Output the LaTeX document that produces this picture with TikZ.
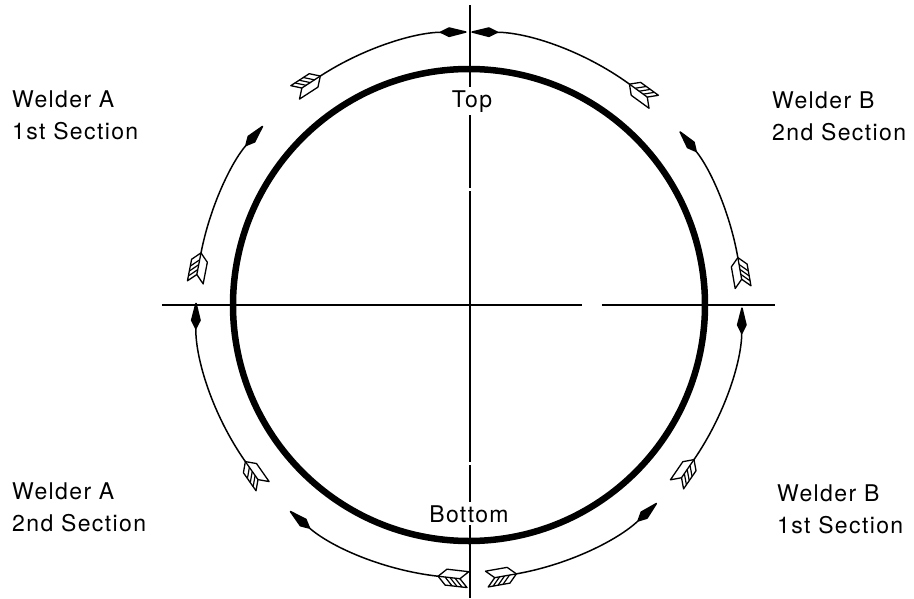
\documentclass[tikz,border=0pt]{standalone}
\usepackage{fontspec}
\setmainfont{TeX Gyre Heros}[LetterSpace=6]
\usetikzlibrary{arrows.meta}
\def\rout{273pt}
\def\rin{236pt}

\tikzset{
  fletch/.pic={
    \draw[line width=1.3pt, fill=white, line join=round]
      (0,0) -- (-8,8) -- (-30,8) -- (-22,0) -- (-30,-8) -- (-8,-8) -- cycle;
    \draw[line width=1.3pt] (0,0) -- (-22,0);
    \foreach \h in {7,12,17} \draw[line width=1.2pt] (-\h,0) -- (-\h-8,8);
  }
}
\newcommand\cwshot[2]{%
  \draw[shot] (#1:\rout) arc[start angle=#1, end angle=#2, radius=\rout];
  \pic[rotate=#1-90] at (#1:\rout) {fletch};}
\newcommand\ccwshot[2]{%
  \draw[shot] (#1:\rout) arc[start angle=#1, end angle=#2, radius=\rout];
  \pic[rotate=#1+90, yscale=-1] at (#1:\rout) {fletch};}

\begin{document}
\begin{tikzpicture}[x=1pt, y=1pt,
  every node/.style={font=\fontsize{23}{32}\selectfont},
  lbl/.style={align=left, inner sep=0pt, anchor=north west},
  poslbl/.style={fill=white, inner sep=3pt, anchor=base},
  ring/.style={line width=6.5pt},
  axis/.style={line width=1.2pt},
  shot/.style={line width=1.5pt, -{Kite[length=30pt,width=10pt,inset=10pt,round]}}
]
\useasboundingbox (-469,-293) rectangle (445,305);

\coordinate (W) at (-307,0);
\coordinate (E) at (306,0);
\coordinate (N) at (1,300);
\coordinate (S) at (1,-293);
\draw[axis, dash pattern=on 420pt off 20pt on 300pt] (W) -- (E);
\draw[axis, dash pattern=on 183pt off 3pt on 271pt off 3pt on 400pt] (N) -- (S);
\draw[ring] (0,0) circle[radius=\rin];

\cwshot{169}{139}
\cwshot{123}{90.5}
\ccwshot{10}{39.5}
\ccwshot{54}{89.5}
\cwshot{263.5}{229}
\cwshot{215}{179.5}
\ccwshot{280}{313.5}
\ccwshot{325.5}{359.5}

\node[poslbl] (top) at (3,198) {Top};
\node[poslbl] (bottom) at (0,-217) {Bottom};

\node[lbl] (a1) at (-457,214) {Welder A\\1st Section};
\node[lbl] (b2) at (303,213) {Welder B\\2nd Section};
\node[lbl] (a2) at (-457,-178) {Welder A\\2nd Section};
\node[lbl] (b1) at (308,-180) {Welder B\\1st Section};

\end{tikzpicture}
\end{document}
